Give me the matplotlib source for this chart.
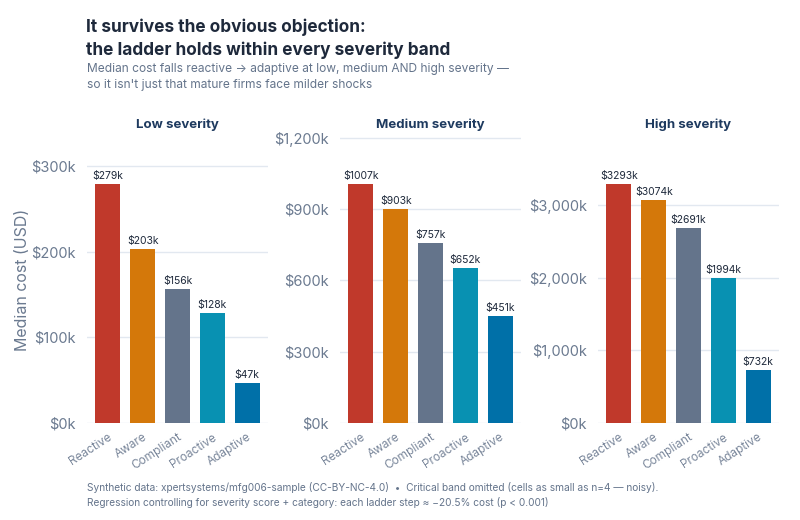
import matplotlib
matplotlib.use("Agg")
import matplotlib.pyplot as plt
from matplotlib.ticker import FuncFormatter, MultipleLocator

plt.rcParams['font.family'] = ['Inter', 'DejaVu Sans']

categories = ["Reactive", "Aware", "Compliant", "Proactive", "Adaptive"]
bands = ["Low severity", "Medium severity", "High severity"]
low_vals = [279, 203, 156, 128, 47]
medium_vals = [1007, 903, 757, 652, 451]
high_vals = [3293, 3074, 2691, 1994, 732]
tick_steps = [100, 300, 1000]
colors = ["#c0392b", "#d4780a", "#64748b", "#0891b2", "#0070a8"]

title = "It survives the obvious objection:\nthe ladder holds within every severity band"
subtitle = ("Median cost falls reactive \u2192 adaptive at low, medium AND high severity \u2014\n"
            "so it isn't just that mature firms face milder shocks")
footer = ("Synthetic data: xpertsystems/mfg006-sample (CC-BY-NC-4.0)  \u2022  Critical band omitted (cells as small as n=4 \u2014 noisy).\n"
          "Regression controlling for severity score + category: each ladder step \u2248 \u221220.5% cost (p < 0.001)")

W, H = 800, 520
fig = plt.figure(figsize=(8, 5.2), dpi=100)
fig.patch.set_facecolor("white")

lefts = [87, 340, 598]
width_px = 181
top_px, bottom_px = 136, 423

all_vals = [low_vals, medium_vals, high_vals]
for i, (vals, band, step) in enumerate(zip(all_vals, bands, tick_steps)):
    ax = fig.add_axes([lefts[i] / W, 1 - bottom_px / H, width_px / W, (bottom_px - top_px) / H])
    x = list(range(len(categories)))
    ax.bar(x, vals, width=0.72, color=colors, zorder=3)
    ymax = max(vals) * 1.2
    ax.set_ylim(0, ymax)
    ax.set_xlim(-0.6, len(categories) - 0.4)
    ax.yaxis.set_major_locator(MultipleLocator(step))
    ax.yaxis.set_major_formatter(FuncFormatter(lambda v, p: f"${v:,.0f}k"))
    ax.grid(axis="y", color="#e2e8f0", linewidth=1, zorder=0)
    for s in ax.spines.values():
        s.set_visible(False)
    ax.tick_params(axis="both", length=0)
    ax.tick_params(axis="y", labelsize=10.5, labelcolor="#6b7a90", pad=8)
    ax.set_xticks(x)
    ax.set_xticklabels(categories, rotation=33, ha="right", rotation_mode="anchor",
                       fontsize=8.5, color="#7a879b")
    ax.tick_params(axis="x", pad=6)
    for xi, v in zip(x, vals):
        ax.annotate(f"${v}k", (xi, v), xytext=(0, 2), textcoords="offset points",
                    ha="center", va="bottom", fontsize=7.5, color="#1e293b", zorder=4)
    ax.set_title(band, fontsize=9.5, fontweight="bold", color="#1e3a5f", pad=6)
    if i == 0:
        ax.set_ylabel("Median cost (USD)", fontsize=11.5, color="#6b7a90", labelpad=1)

fig.text(86 / W, 1 - 19 / H, title, ha="left", va="top", fontsize=12.4,
         fontweight="bold", color="#1e293b", linespacing=1.38)
fig.text(87 / W, 1 - 63 / H, subtitle, ha="left", va="top", fontsize=8.6,
         color="#64748b", linespacing=1.4)
fig.text(87 / W, 1 - 482 / H, footer, ha="left", va="top", fontsize=7.3,
         color="#64748b", linespacing=1.5)

fig.savefig("out.png", dpi=100, facecolor="white")
